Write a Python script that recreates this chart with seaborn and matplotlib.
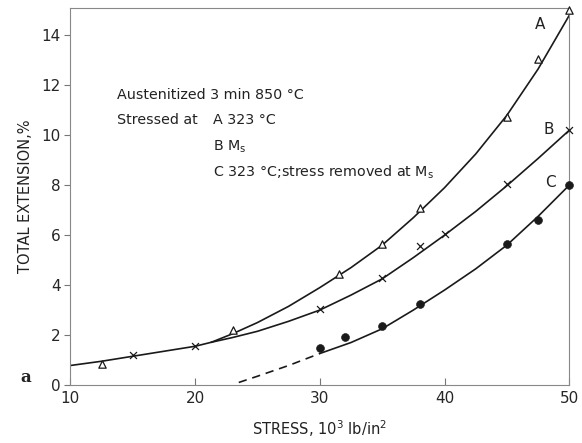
import matplotlib
matplotlib.use("Agg")
import matplotlib.pyplot as plt
import seaborn as sns

# ---- measured points ----
a_x = [12.5, 23, 31.5, 35, 38, 45, 47.5, 50]
a_y = [0.84, 2.2, 4.45, 5.65, 7.08, 10.75, 13.06, 15.0]
b_x = [15, 20, 30, 35, 38, 40, 45, 50]
b_y = [1.2, 1.56, 3.05, 4.3, 5.58, 6.05, 8.05, 10.2]
c_x = [30, 32, 35, 38, 45, 47.5, 50]
c_y = [1.5, 1.93, 2.35, 3.23, 5.65, 6.62, 8.0]

# ---- fitted curves ----
common_x = [10, 12.5, 15, 17.5, 20, 21.3]
common_y = [0.78, 0.95, 1.15, 1.35, 1.55, 1.71]
curveA_x = [21.3, 23, 25, 27.5, 30, 32.5, 35, 37.5, 40, 42.5, 45, 47.5, 50]
curveA_y = [1.71, 2.05, 2.5, 3.15, 3.9, 4.7, 5.6, 6.7, 7.9, 9.25, 10.8, 12.65, 14.8]
curveB_x = [21.3, 23, 25, 27.5, 30, 32.5, 35, 37.5, 40, 42.5, 45, 47.5, 50]
curveB_y = [1.71, 1.9, 2.15, 2.55, 3.0, 3.6, 4.25, 5.1, 6.0, 6.95, 7.98, 9.07, 10.2]
curveC_dash_x = [23.5, 25, 27.5, 30]
curveC_dash_y = [0.1, 0.35, 0.78, 1.26]
curveC_x = [30, 32.5, 35, 37.5, 40, 42.5, 45, 47.5, 50]
curveC_y = [1.26, 1.7, 2.25, 3.0, 3.8, 4.65, 5.6, 6.75, 8.0]

x_ticks = [10, 20, 30, 40, 50]
y_ticks = [0, 2, 4, 6, 8, 10, 12, 14]

sns.set_style("ticks")
plt.rcParams['font.family'] = ['DejaVu Sans']
plt.rcParams['mathtext.fontset'] = 'dejavusans'

fig = plt.figure(figsize=(5.82, 4.43), dpi=100)
ax = fig.add_axes([0.121, 0.131, 0.857, 0.851])

ink = "#1a1a1a"
lw = 1.2
for xs, ys, ls in [(common_x, common_y, "-"), (curveA_x, curveA_y, "-"),
                   (curveB_x, curveB_y, "-"), (curveC_x, curveC_y, "-"),
                   (curveC_dash_x, curveC_dash_y, (0, (5, 3.5)))]:
    sns.lineplot(x=xs, y=ys, ax=ax, color=ink, lw=lw, linestyle=ls, sort=False,
                 estimator=None)

sns.scatterplot(x=a_x, y=a_y, ax=ax, marker="^", s=28, facecolor="white",
                edgecolor=ink, linewidth=0.9, zorder=5, clip_on=False)
sns.scatterplot(x=b_x, y=b_y, ax=ax, marker="x", s=25, color=ink,
                linewidth=0.9, zorder=5, clip_on=False)
sns.scatterplot(x=c_x, y=c_y, ax=ax, marker="o", s=32, color=ink,
                edgecolor=ink, zorder=5, clip_on=False)

ax.set_xlim(10, 50)
ax.set_ylim(0, 15.1)
ax.set_xticks(x_ticks)
ax.set_yticks(y_ticks)
ax.tick_params(axis="x", direction="in", length=5, labelsize=11, pad=4, color="#777777")
ax.tick_params(axis="y", direction="out", length=4, labelsize=11, pad=3, color="#777777")
for s in ax.spines.values():
    s.set_color("#888888")
    s.set_linewidth(0.8)

ax.set_xlabel("STRESS, 10$^3$ lb/in$^2$", fontsize=10.5, labelpad=9, color="#222222")
ax.set_ylabel("TOTAL EXTENSION,%", fontsize=10.5, labelpad=6, color="#222222")

tc = "#222222"
fs = 10.3
ax.text(13.7, 11.6, "Austenitized 3 min 850 °C", fontsize=fs, va="center", color=tc)
ax.text(13.7, 10.6, "Stressed at", fontsize=fs, va="center", color=tc)
ax.text(21.45, 10.6, "A 323 °C", fontsize=fs, va="center", color=tc)
ax.text(21.45, 9.55, "B M$_\\mathrm{s}$", fontsize=fs, va="center", color=tc)
ax.text(21.45, 8.5, "C 323 °C;stress removed at M$_\\mathrm{s}$", fontsize=fs,
        va="center", color=tc)

ax.text(47.7, 14.45, "A", fontsize=11, ha="center", va="center", color=tc)
ax.text(48.4, 10.25, "B", fontsize=11, ha="center", va="center", color=tc)
ax.text(48.5, 8.1, "C", fontsize=11, ha="center", va="center", color=tc)

fig.text(0.045, (443 - 377) / 443, "a", fontsize=12, fontweight="bold",
         family="DejaVu Serif", ha="center", va="center", color=tc)

fig.savefig("out.png", dpi=100, facecolor="white")
